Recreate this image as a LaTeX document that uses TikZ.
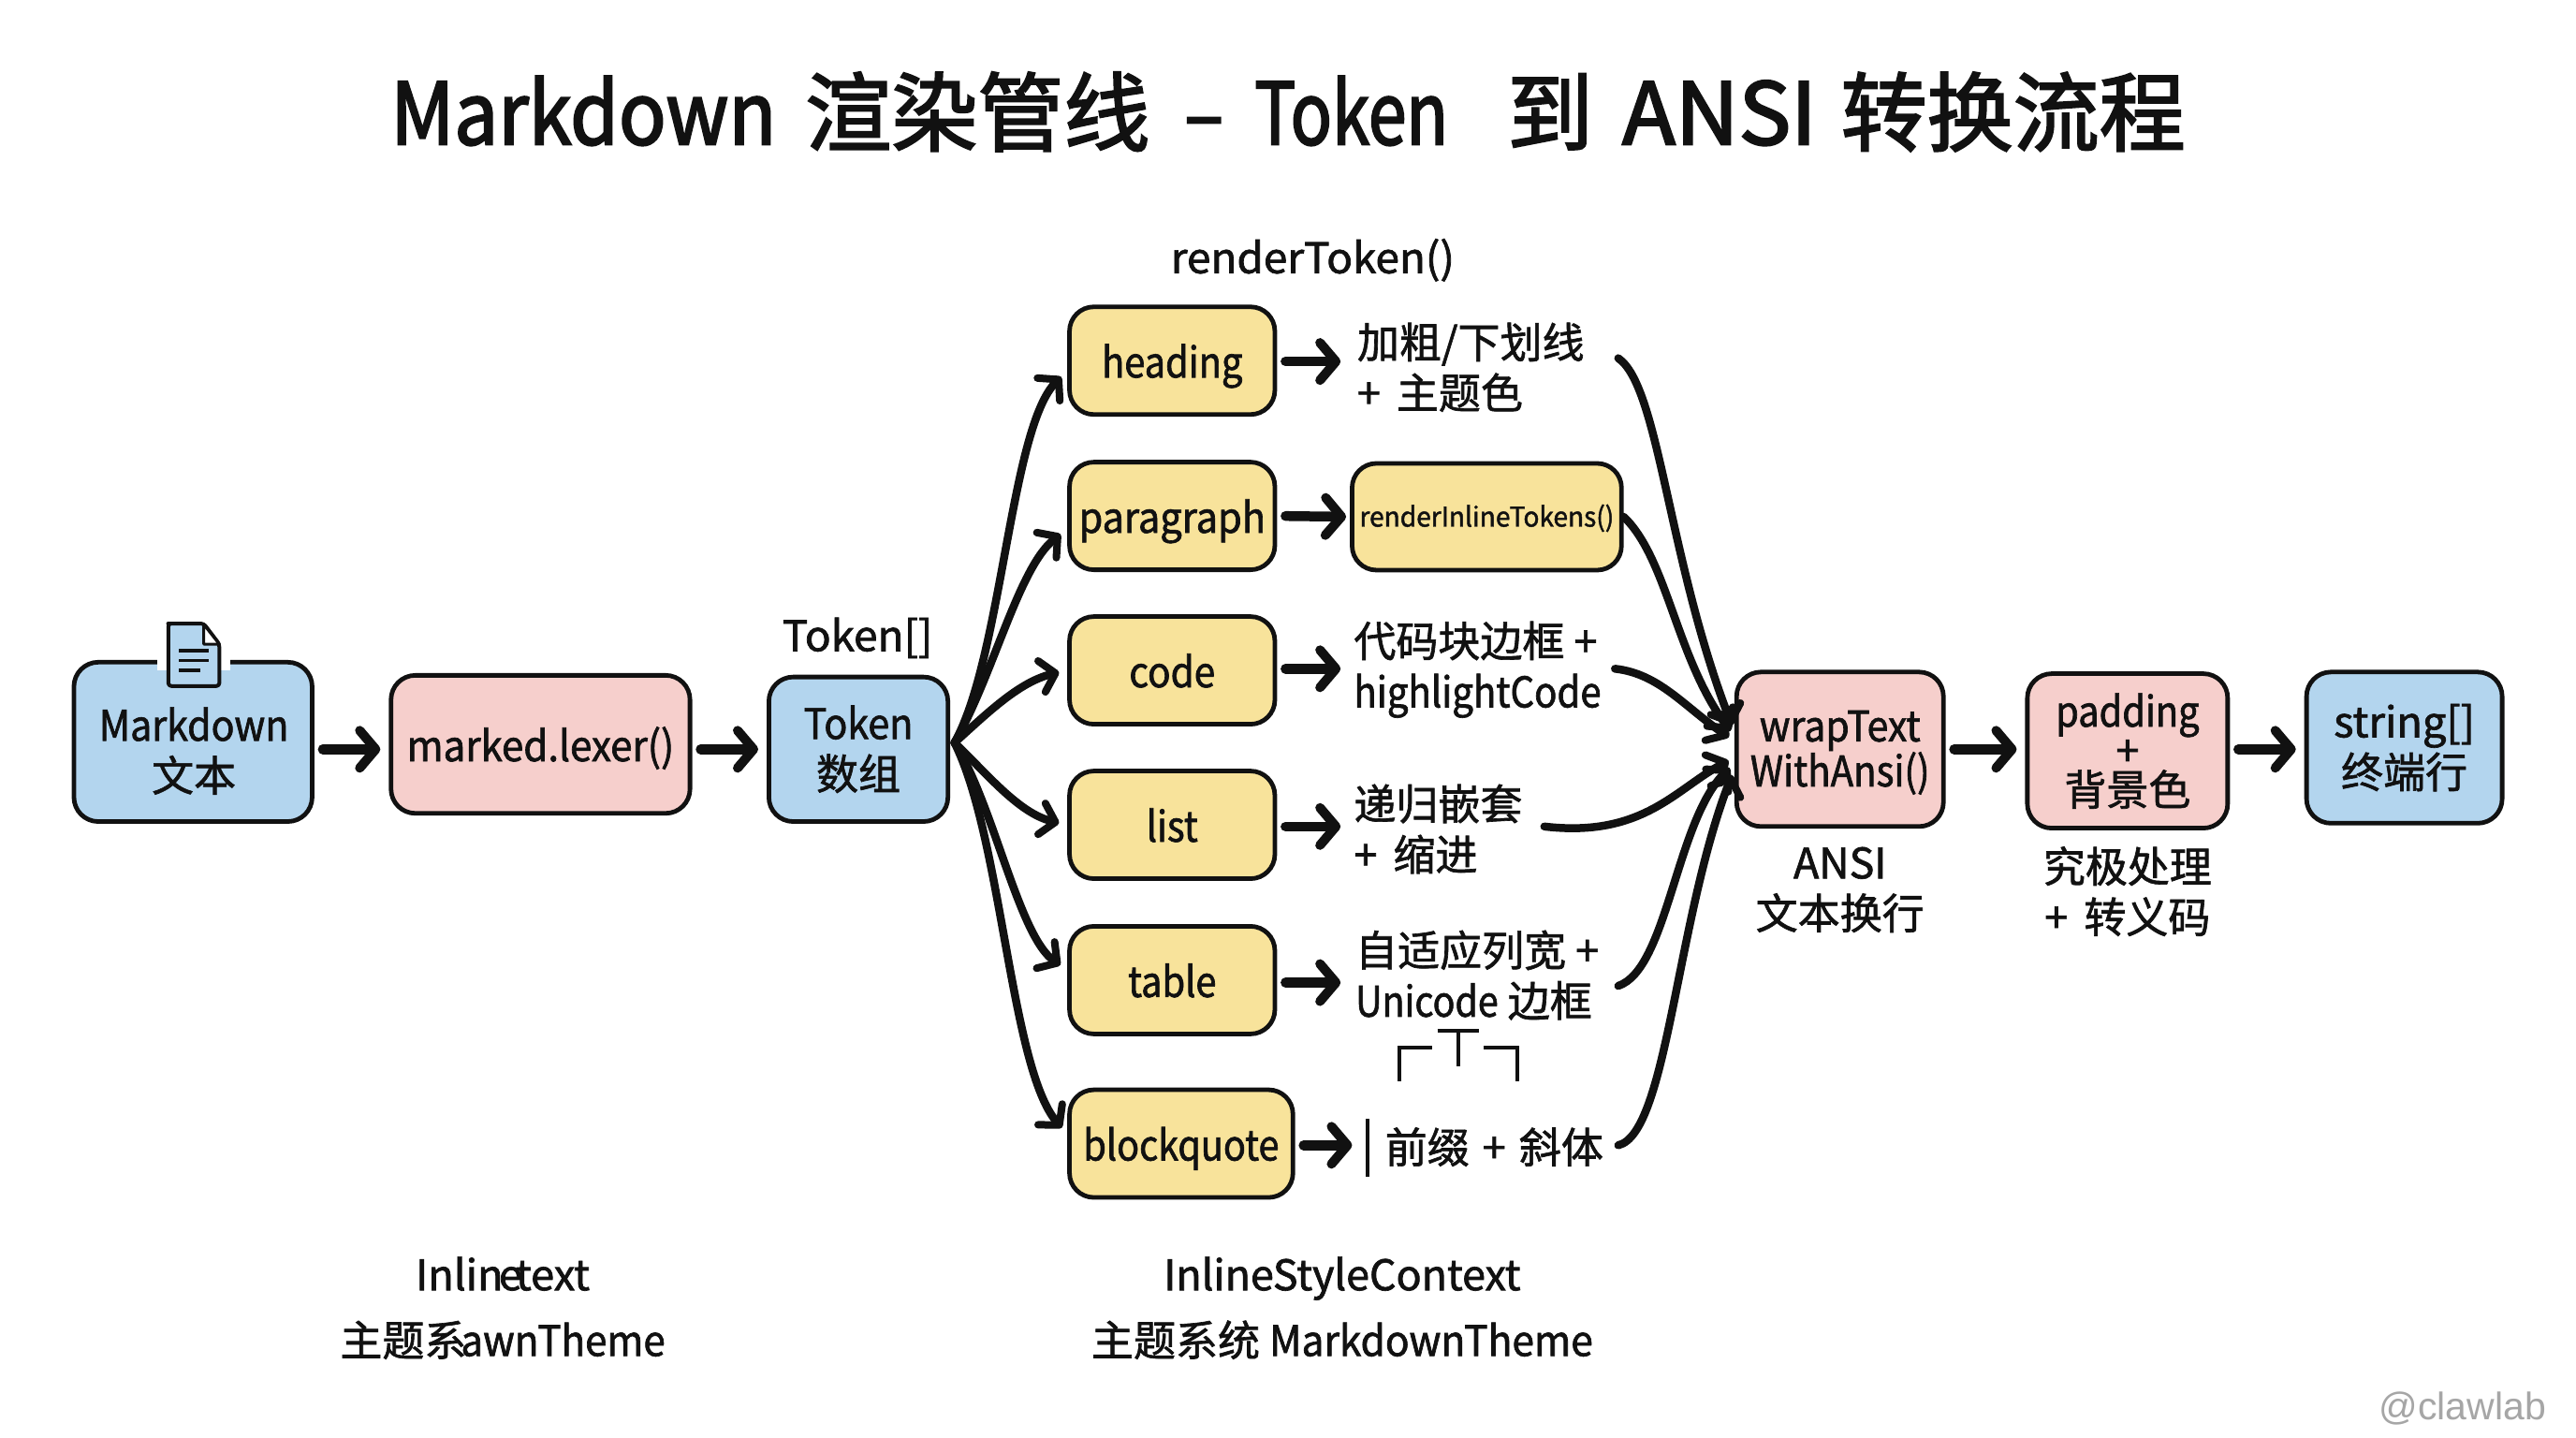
\documentclass[tikz,border=0pt]{standalone}
\usepackage{fontspec}
\usepackage{graphicx}
\usetikzlibrary{arrows.meta}
\setmainfont{Noto Sans CJK SC}[FakeBold=1.4]
\newfontfamily\lat{Noto Sans CJK SC}[FakeStretch=0.85,FakeBold=1.4]
\newfontfamily\ttl{Noto Sans CJK SC}[FakeBold=2.2]
\newfontfamily\ttllat{Noto Sans CJK SC}[FakeStretch=0.85,FakeBold=2.2]
\newfontfamily\wm{Liberation Sans}
\newcommand{\La}[2][1]{\scalebox{#1}[1]{\lat #2}}
\newcommand{\Tl}[2][1]{\scalebox{#1}[1]{\ttllat #2}}
\definecolor{bluefill}{HTML}{B3D5EE}
\definecolor{pinkfill}{HTML}{F6CFCC}
\definecolor{yellowfill}{HTML}{F8E39B}
\definecolor{ink}{HTML}{111111}
\tikzset{
  x=1.7551pt,y=-1.7551pt,
  box/.style={draw=ink,line width=4.8pt,rounded corners=26pt,inner sep=0pt,align=center,text=ink,font=\fontsize{45}{54}\selectfont},
  single/.style={text height=36pt,text depth=0pt},
  bluebox/.style={box,fill=bluefill},
  pinkbox/.style={box,fill=pinkfill},
  yellowbox/.style={box,single,fill=yellowfill,minimum width=219.4pt,minimum height=115pt},
  lbl/.style={inner sep=0pt,align=center,text=ink,font=\fontsize{45}{54}\selectfont},
  lbll/.style={lbl,align=left,anchor=west},
  flowarrow/.style={draw=ink,line width=10.5pt,line cap=round,shorten >=9pt,shorten <=9pt,-{Straight Barb[length=17pt,width=40pt,line width=10pt,round]}},
  fan/.style={draw=ink,line width=8.5pt,line cap=round,-{Straight Barb[length=15pt,width=34pt,line width=8pt,round]}},
  fanin/.style={fan,shorten >=7pt},
  fanout/.style={fan,shorten >=9pt},
  glyph/.style={draw=ink,line width=4pt},
}
\begin{document}
\begin{tikzpicture}
\useasboundingbox[fill=white] (0,0) rectangle (1568,875.16);
% title
\node[inner sep=0pt,text=ink,font=\fontsize{92}{100}\selectfont\ttl] (title) at (784,68) {\Tl[1.069]{Markdown}\hspace{31pt}渲染管线\hspace{37pt}\Tl{–}\hspace{33pt}\Tl[0.935]{Token}\hspace{63pt}到\hspace{31pt}\Tl[1.196]{ANSI}\hspace{26pt}转换流程};
% main flow
\node[bluebox,minimum width=254.5pt,minimum height=170.2pt] (md) at (117.5,451.5) {};
\node[lbl] (mdt) at (118,457) {\La[1.075]{Markdown}\\文本};
\node[pinkbox,single,minimum width=319.4pt,minimum height=147.4pt] (lexer) at (329,453) {\La[1.1]{marked.lexer()}};
\node[bluebox,minimum width=191.3pt,minimum height=154.4pt] (token) at (522.5,456) {\La[1.08]{Token}\\数组};
\node[lbl,single] (tokenlbl) at (522,386) {\La[1.2]{Token[]}};
\node[lbl,single] (rtlbl) at (799,156) {\La[1.2]{renderToken()}};
% document icon
\fill[white] (96,399) rectangle (140,408);
\draw[draw=ink,fill=bluefill,line width=4pt,line join=round,rounded corners=3pt] (104,379.5) -- (124,379.5) -- (133.5,392) -- (133.5,417.5) -- (102.5,417.5) -- (102.5,379.5) -- cycle;
\draw[draw=ink,fill=white,line width=3pt,line join=round] (124,380) -- (124,392) -- (133.5,392) -- cycle;
\draw[ink,line width=3.5pt] (109,396) -- (127,396) (109,402) -- (127,402) (109,408) -- (122,408);
% yellow boxes
\node[yellowbox] (heading) at (713.5,219.5) {\La[1.04]{heading}};
\node[yellowbox] (paragraph) at (713.5,314) {\La[1.085]{paragraph}};
\node[yellowbox] (code) at (713.5,408) {\La[1.06]{code}};
\node[yellowbox] (list) at (713.5,502) {\La[1.04]{list}};
\node[yellowbox] (table) at (713.5,596.5) {\La[1.04]{table}};
\node[yellowbox,minimum width=238.7pt] (blockquote) at (719,696) {\La[1.035]{blockquote}};
\node[yellowbox,minimum width=287.8pt,minimum height=114pt,font=\fontsize{29}{34}\selectfont,text height=22pt,text depth=1pt] (inline) at (905,314.5) {\La[1.14]{renderInlineTokens()}};
% right-hand labels
\node[lbll] (headT) at (826,223.5) {加粗/下划线\\+ \hspace{7pt}主题色};
\node[lbll] (codeT) at (824,407.5) {代码块边框 +\\\La[1.05]{highlightCode}};
\node[lbll] (listT) at (824,504.5) {递归嵌套\\+ \hspace{7pt}缩进};
\node[lbll] (tableT) at (825,593.5) {自适应列宽 +\\\La[1.03]{Unicode} 边框};
\node[lbll] (quoteT) at (843,698) {前缀\hspace{4pt} + \hspace{4pt}斜体};
\draw[glyph] (852,658) |- (872,637.6);
\draw[glyph] (875,627.3) -- (900,627.3) (887.6,627.3) -- (887.6,649);
\draw[glyph] (903,637.6) -| (923.6,658);
\draw[ink,line width=4.5pt] (832.5,681) -- (832.5,716);
% output boxes
\node[pinkbox,minimum width=221pt,minimum height=165pt] (wrap) at (1120,456) {};
\node[lbl,font=\fontsize{45}{47}\selectfont] (wrapT) at (1120,458) {\La[1.07]{wrapText}\\\La[1.05]{WithAnsi()}};
\node[pinkbox,minimum width=214pt,minimum height=165pt,font=\fontsize{45}{42}\selectfont] (padding) at (1295,457) {\La[1.04]{padding}\\+\\背景色};
\node[bluebox,minimum width=209pt,minimum height=161.5pt] (string) at (1463.5,455) {\La[1.18]{string[]}\\终端行};
\node[lbl] (ansi) at (1120,541.5) {\La[1.17]{ANSI}\\文本换行};
\node[lbl] (final) at (1295,542.5) {究极处理\\+ \hspace{7pt}转义码};
% bottom notes
\node[lbl,single] (n1a) at (306,775) {\La[1.18]{Inlin\kern-4pt{}e\kern-6pt{}text}};
\node[lbl,single] (n1b) at (306,815) {主题系\hspace{-6pt}\La[1.1]{awnTheme}};
\node[lbl,single] (n2a) at (817,775) {\La[1.17]{InlineStyleContext}};
\node[lbl,single] (n2b) at (817,815) {主题系统 \La[1.11]{MarkdownTheme}};
\node[inner sep=0pt,text=black!35,font=\wm\fontsize{41}{45}\selectfont] (mark) at (1499,857) {@clawlab};
% flow line
\coordinate (flow) at (0,456);
\draw[flowarrow] (md.east |- flow) -- (lexer.west |- flow);
\draw[flowarrow] (lexer.east |- flow) -- (token.west |- flow);
\draw[flowarrow] (wrap.east |- flow) -- (padding.west |- flow);
\draw[flowarrow] (padding.east |- flow) -- (string.west |- flow);
% short arrows
\coordinate (hs) at (816,220);
\coordinate (cs) at (816,407);
\coordinate (ls) at (816,503);
\coordinate (ts) at (816,598);
\draw[flowarrow,shorten >=0pt] (heading.east |- hs) -- (hs);
\draw[flowarrow,shorten >=4pt] (paragraph.east) -- (inline.west);
\draw[flowarrow,shorten >=0pt] (code.east |- cs) -- (cs);
\draw[flowarrow,shorten >=0pt] (list.east |- ls) -- (ls);
\draw[flowarrow,shorten >=0pt] (table.east |- ts) -- (ts);
\coordinate (qs) at (823,697);
\draw[flowarrow,shorten >=0pt] (blockquote.east |- qs) -- (qs);
% fan out
\coordinate (tokOut) at (581,452);
\draw[fanout] (tokOut) .. controls (610,400) and (615,260) .. ([yshift=-11pt]heading.west);
\draw[fanout] (tokOut) .. controls (605,410) and (620,345) .. ([yshift=-14pt]paragraph.west);
\draw[fanout] (tokOut) .. controls (600,435) and (620,415) .. (code.west);
\draw[fanout] (tokOut) .. controls (600,470) and (620,495) .. (list.west);
\draw[fanout] (tokOut) .. controls (605,490) and (620,570) .. ([yshift=11pt]table.west);
\draw[fanout] (tokOut) .. controls (610,510) and (615,650) .. ([yshift=10pt]blockquote.west);
% fan in
\coordinate (hOut) at (985,218);
\coordinate (cOut) at (983,407);
\coordinate (lOut) at (940,503);
\coordinate (tOut) at (985,600);
\coordinate (qOut) at (985,697);
\draw[fanin] (hOut) .. controls (1010,235) and (1015,340) .. ([yshift=19pt]wrap.west);
\draw[fanin] (inline.east) .. controls (1015,340) and (1020,400) .. ([yshift=14pt]wrap.west);
\draw[fanin] (cOut) .. controls (1010,410) and (1025,430) .. ([yshift=9pt]wrap.west);
\draw[fanin] (lOut) .. controls (1000,510) and (1020,480) .. ([yshift=-9pt]wrap.west);
\draw[fanin] (tOut) .. controls (1015,590) and (1020,500) .. ([yshift=-15pt]wrap.west);
\draw[fanin] (qOut) .. controls (1015,690) and (1020,560) .. ([yshift=-21pt]wrap.west);
\end{tikzpicture}
\end{document}
